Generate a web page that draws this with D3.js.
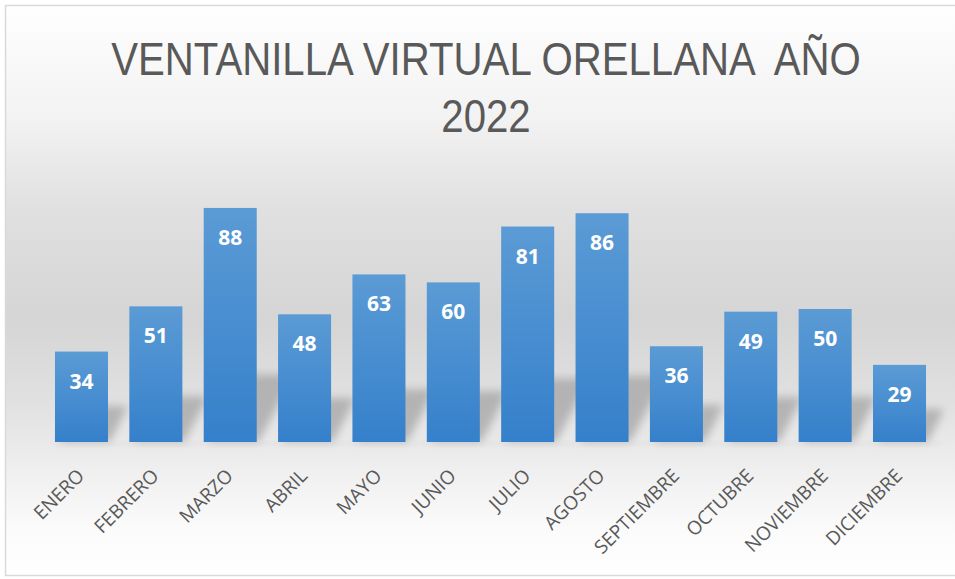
<!DOCTYPE html>
<html><head><meta charset="utf-8">
<script src="https://cdn.jsdelivr.net/npm/d3@7"></script>
<style>html,body{margin:0;padding:0;background:#fff;}svg{display:block;}</style>
</head><body>
<svg id="chart" width="955" height="579"></svg>
<script>
const months = ["ENERO","FEBRERO","MARZO","ABRIL","MAYO","JUNIO","JULIO","AGOSTO","SEPTIEMBRE","OCTUBRE","NOVIEMBRE","DICIEMBRE"];
const values = [34,51,88,48,63,60,81,86,36,49,50,29];
const titleLines = ["VENTANILLA VIRTUAL ORELLANA  AÑO","2022"];

const W = 955, H = 579;
const svg = d3.select("#chart");
const defs = svg.append("defs");

const bg = defs.append("linearGradient").attr("id","bg").attr("x1",0).attr("y1",0).attr("x2",0).attr("y2",1);
[[0,"#ffffff"],[0.04,"#fcfcfc"],[0.2,"#f2f2f2"],[0.36,"#e0e0e0"],[0.55,"#d5d5d5"],[0.7,"#e1e1e1"],[0.83,"#f1f1f1"],[0.92,"#fbfbfb"],[1,"#ffffff"]]
  .forEach(([o,c])=>bg.append("stop").attr("offset",o).attr("stop-color",c));

const barG = defs.append("linearGradient").attr("id","barg").attr("x1",0).attr("y1",0).attr("x2",0).attr("y2",1);
barG.append("stop").attr("offset",0).attr("stop-color","#5b9bd5");
barG.append("stop").attr("offset",1).attr("stop-color","#3580cb");

const blur = defs.append("filter").attr("id","blur").attr("x","-50%").attr("y","-50%").attr("width","200%").attr("height","200%");
blur.append("feGaussianBlur").attr("stdDeviation",4);

svg.append("rect").attr("x",0).attr("y",0).attr("width",W).attr("height",H).attr("fill","#fff");
svg.append("rect").attr("x",5.5).attr("y",5.5).attr("width",W+10).attr("height",H-9)
  .attr("fill","url(#bg)").attr("stroke","#d9d9d9").attr("stroke-width",1.5);

const x = d3.scaleBand().domain(months).range([44.3,936.7]).paddingInner(0.287).paddingOuter(0.1435);
const y = d3.scaleLinear().domain([0,100]).range([442,176]);

// title
const title = svg.append("text").attr("text-anchor","middle").attr("fill","#595959")
  .attr("transform","translate(486,0) scale(0.855,1)")
  .style("font-family","'Liberation Sans',sans-serif").style("font-size","47px").style("white-space","pre");
titleLines.forEach((t,i)=>{
  title.append("tspan").attr("x",0).attr("y",75+i*57).text(t);
});

// shadows
const sh = svg.append("g").attr("filter","url(#blur)");
months.forEach((m,i)=>{
  const x0 = x(m), x1 = x(m)+x.bandwidth(), y0 = y(0);
  const h = (y(0)-y(values[i]))*0.22 + 16;
  const dx = h*0.55;
  sh.append("path")
    .attr("d",`M${x0+4},${y0} L${x1+2},${y0} L${x1+dx},${y0-h} L${x0+dx},${y0-h} Z`)
    .attr("fill","#959595").attr("opacity",0.6);
});
svg.append("rect").attr("x",x(months[0])).attr("y",y(0)).attr("width",x(months[11])+x.bandwidth()-x(months[0])+15).attr("height",3)
  .attr("fill","#d6d6d6").attr("filter","url(#blur)").attr("opacity",0.6);

// bars
svg.append("g").selectAll("rect").data(values).join("rect")
  .attr("x",(d,i)=>x(months[i])).attr("y",d=>y(d))
  .attr("width",x.bandwidth()).attr("height",d=>y(0)-y(d))
  .attr("fill","url(#barg)");

// labels
svg.append("g").selectAll("text").data(values).join("text")
  .attr("x",(d,i)=>x(months[i])+x.bandwidth()/2).attr("y",d=>y(d)+29)
  .attr("text-anchor","middle").attr("dominant-baseline","central")
  .attr("fill","#fff").style("font-family","'Open Sans',sans-serif").style("font-weight","bold").style("font-size","21px")
  .text(d=>d);

// x axis labels
const xAxis = d3.axisBottom(x).tickSize(0).tickPadding(0);
const ax = svg.append("g").attr("transform",`translate(0,${y(0)})`).call(xAxis);
ax.select(".domain").remove();
ax.selectAll("text")
  .attr("fill","#595959").style("font-family","'Open Sans',sans-serif").style("font-size","19px")
  .attr("text-anchor","end").attr("dy",0)
  .attr("transform","translate(4,35) rotate(-45)");
</script>
</body></html>
